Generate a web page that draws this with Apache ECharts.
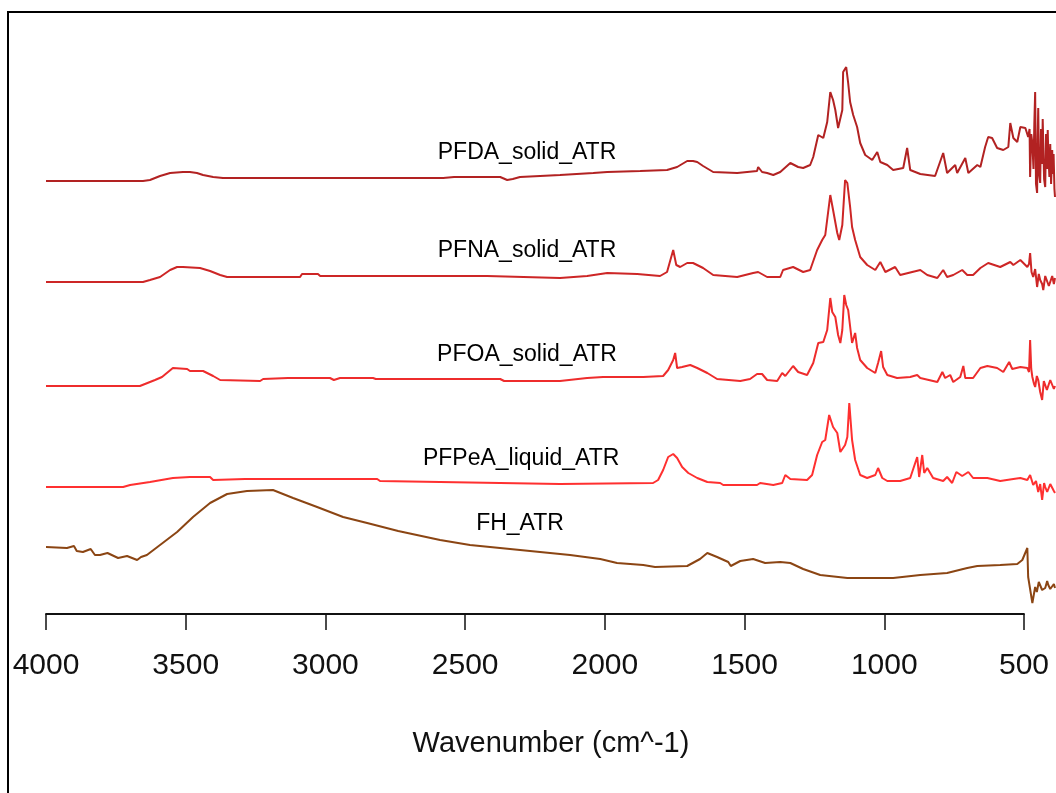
<!DOCTYPE html>
<html>
<head>
<meta charset="utf-8">
<script src="https://cdn.jsdelivr.net/npm/echarts@6/dist/echarts.min.js"></script>
<style>
html,body{margin:0;padding:0;background:#fff;}
#c{width:1056px;height:793px;}
</style>
</head>
<body>
<div id="c"></div>
<script>
// Offset absorbance (a.u.) vs wavenumber (cm^-1)
const xTicks = [4000, 3500, 3000, 2500, 2000, 1500, 1000, 500];
const seriesNames = ['PFDA_solid_ATR', 'PFNA_solid_ATR', 'PFOA_solid_ATR', 'PFPeA_liquid_ATR', 'FH_ATR'];

const pfdaWn = [4000,3653,3628,3610,3592,3556,3510,3485,3460,3438,3402,3367,2579,2540,2375,2350,2330,2304,2161,2042,1992,1874,1778,1742,1706,1685,1670,1649,1613,1527,1456,1452,1438,1420,1398,1373,1337,1309,1291,1266,1255,1237,1219,1205,1194,1184,1176,1166,1151,1148,1137,1130,1123,1112,1098,1087,1069,1044,1026,1015,990,969,933,919,908,872,819,790,776,747,740,711,700,668,657,640,629,615,597,575,557,550,539,525,514,496,486,481,479,475,471,467,464,461,458,454,452,450,447,443,440,436,434,432,429,425,422,418,416,414,410,407,404,400,398,395,392,390];
const pfdaAbs = [4.33,4.33,4.34,4.36,4.38,4.41,4.42,4.42,4.41,4.39,4.37,4.36,4.36,4.37,4.37,4.34,4.35,4.37,4.39,4.41,4.42,4.43,4.44,4.47,4.53,4.53,4.52,4.48,4.42,4.41,4.43,4.47,4.42,4.41,4.39,4.42,4.51,4.47,4.46,4.49,4.57,4.79,4.76,4.92,5.22,5.14,5.04,4.86,5.04,5.42,5.47,5.31,5.12,4.99,4.87,4.71,4.59,4.54,4.62,4.52,4.49,4.44,4.46,4.66,4.44,4.40,4.38,4.61,4.41,4.49,4.41,4.56,4.41,4.49,4.47,4.67,4.77,4.76,4.66,4.64,4.67,4.91,4.76,4.72,4.87,4.86,4.77,4.85,4.37,4.80,4.71,4.45,4.90,5.22,4.30,4.21,4.75,5.06,4.40,4.31,4.85,4.50,4.95,4.71,4.35,4.27,4.80,4.45,4.84,4.60,4.37,4.70,4.30,4.64,4.40,4.60,4.25,4.17];

const pfnaWn = [4000,3653,3628,3592,3556,3531,3510,3449,3413,3377,3352,3091,3084,3027,3019,2422,2415,2161,2064,1992,1885,1803,1778,1756,1745,1731,1706,1685,1649,1613,1527,1470,1452,1420,1373,1363,1327,1291,1266,1241,1223,1212,1194,1184,1169,1162,1151,1141,1133,1123,1116,1105,1087,1062,1033,1015,997,962,944,872,847,811,790,776,754,722,704,683,657,629,586,550,539,514,489,483,479,474,468,461,454,448,443,436,432,425,418,412,407,400,394,390];
const pfnaAbs = [3.32,3.32,3.34,3.37,3.44,3.47,3.47,3.46,3.43,3.39,3.37,3.37,3.40,3.40,3.38,3.38,3.36,3.36,3.38,3.41,3.40,3.38,3.42,3.64,3.49,3.47,3.51,3.51,3.46,3.39,3.37,3.41,3.42,3.37,3.37,3.44,3.47,3.42,3.44,3.64,3.74,3.79,4.19,4.04,3.81,3.74,3.89,4.34,4.31,4.07,3.87,3.74,3.57,3.49,3.44,3.52,3.42,3.47,3.39,3.44,3.39,3.36,3.44,3.37,3.39,3.44,3.39,3.39,3.46,3.51,3.47,3.52,3.49,3.54,3.47,3.50,3.61,3.42,3.37,3.45,3.27,3.40,3.34,3.30,3.24,3.38,3.36,3.28,3.29,3.38,3.30,3.36];

const pfoaWn = [4000,3664,3610,3585,3546,3495,3485,3438,3402,3377,3234,3223,3134,2984,2970,2948,2830,2820,2375,2361,2161,2064,2007,1863,1792,1774,1756,1749,1742,1724,1695,1670,1634,1599,1516,1481,1456,1438,1420,1384,1366,1355,1327,1309,1277,1255,1237,1219,1205,1194,1187,1176,1166,1158,1151,1144,1137,1130,1116,1105,1098,1087,1062,1033,1023,1012,1005,990,955,908,883,872,811,793,783,765,754,729,718,711,683,657,632,597,575,554,543,514,489,483,479,475,471,465,461,455,450,443,436,430,425,419,414,407,400,394,390];
const pfoaAbs = [2.28,2.28,2.34,2.37,2.46,2.45,2.43,2.43,2.38,2.34,2.33,2.35,2.36,2.36,2.34,2.36,2.36,2.35,2.35,2.33,2.33,2.36,2.37,2.37,2.38,2.44,2.54,2.61,2.46,2.47,2.49,2.46,2.41,2.35,2.33,2.35,2.40,2.40,2.34,2.33,2.41,2.38,2.48,2.42,2.39,2.51,2.71,2.72,2.84,3.16,3.02,2.97,2.79,2.71,2.84,3.19,3.09,3.04,2.71,2.81,2.66,2.54,2.46,2.41,2.51,2.63,2.47,2.39,2.36,2.37,2.39,2.36,2.32,2.42,2.36,2.39,2.32,2.37,2.48,2.36,2.36,2.46,2.48,2.46,2.42,2.52,2.45,2.47,2.46,2.42,2.74,2.45,2.37,2.30,2.27,2.38,2.34,2.22,2.14,2.33,2.31,2.24,2.26,2.34,2.32,2.25,2.28];

const pfpeaWn = [4000,3724,3699,3628,3546,3485,3413,3402,3288,2815,2805,2161,1828,1810,1792,1774,1756,1742,1724,1702,1670,1634,1588,1577,1456,1445,1398,1366,1355,1337,1277,1259,1241,1223,1212,1198,1184,1169,1158,1141,1133,1126,1116,1105,1087,1062,1033,1023,1008,990,944,908,883,876,865,858,847,826,790,776,758,743,722,700,683,632,586,539,514,489,479,468,458,450,443,436,429,425,418,414,407,400,394,390];
const pfpeaAbs = [1.27,1.27,1.29,1.32,1.36,1.37,1.37,1.34,1.35,1.35,1.33,1.30,1.31,1.34,1.44,1.57,1.60,1.56,1.47,1.41,1.36,1.32,1.31,1.29,1.29,1.31,1.29,1.31,1.39,1.35,1.34,1.39,1.59,1.72,1.74,1.99,1.87,1.81,1.62,1.69,1.77,2.11,1.74,1.54,1.39,1.36,1.39,1.46,1.36,1.33,1.33,1.36,1.57,1.37,1.59,1.41,1.46,1.36,1.33,1.37,1.31,1.42,1.38,1.42,1.36,1.36,1.33,1.35,1.36,1.34,1.39,1.29,1.33,1.22,1.30,1.14,1.31,1.27,1.22,1.24,1.30,1.31,1.23,1.21];

const fhWn = [4000,3925,3900,3890,3868,3840,3825,3807,3780,3742,3710,3674,3660,3639,3592,3531,3474,3413,3352,3281,3188,3116,3030,2937,2851,2740,2590,2483,2304,2125,2017,1957,1863,1821,1706,1660,1634,1599,1559,1550,1516,1470,1427,1373,1337,1291,1230,1133,969,872,776,704,668,586,525,507,489,486,471,461,455,448,443,436,425,418,414,407,400,394,390];
const fhAbs = [0.67,0.66,0.68,0.63,0.62,0.65,0.59,0.59,0.61,0.56,0.58,0.54,0.57,0.59,0.69,0.82,0.97,1.11,1.20,1.23,1.24,1.16,1.07,0.97,0.91,0.83,0.74,0.69,0.64,0.59,0.55,0.51,0.49,0.47,0.48,0.55,0.61,0.57,0.52,0.48,0.53,0.55,0.51,0.52,0.51,0.45,0.39,0.36,0.36,0.39,0.41,0.46,0.48,0.49,0.50,0.54,0.66,0.37,0.11,0.27,0.22,0.32,0.34,0.24,0.26,0.33,0.29,0.25,0.24,0.30,0.26];

// label anchor positions (wavenumber, offset absorbance)
const labelWn = [2279, 2279, 2279, 2300, 2304];
const labelAbs = [4.61, 3.63, 2.59, 1.55, 0.90];

const colors = ['#B22222', '#CD2626', '#EE2C2C', '#FF3030', '#8B4513'];
const wnArrays = [pfdaWn, pfnaWn, pfoaWn, pfpeaWn, fhWn];
const absArrays = [pfdaAbs, pfnaAbs, pfoaAbs, pfpeaAbs, fhAbs];

const FONT = "'Liberation Sans', Arial, sans-serif";

const series = seriesNames.map((name, i) => ({
  name: name,
  type: 'line',
  xAxisIndex: 0,
  yAxisIndex: 0,
  showSymbol: false,
  symbol: 'none',
  silent: true,
  animation: false,
  lineStyle: { color: colors[i], width: 2 },
  data: wnArrays[i].map((w, j) => [w, absArrays[i][j]])
}));

series.push({
  type: 'scatter',
  xAxisIndex: 0,
  yAxisIndex: 0,
  symbolSize: 0,
  silent: true,
  animation: false,
  itemStyle: { opacity: 1 },
  data: seriesNames.map((n, i) => [labelWn[i], labelAbs[i], n]),
  label: {
    show: true,
    position: 'inside',
    formatter: p => p.data[2],
    color: '#000',
    opacity: 1,
    textBorderWidth: 0,
    fontSize: 23,
    fontFamily: FONT
  }
});

const chart = echarts.init(document.getElementById('c'), null, { renderer: 'canvas' });
chart.setOption({
  backgroundColor: '#ffffff',
  animation: false,
  grid: [
    { left: 46, right: 1, top: 14, bottom: 179 },
    { left: 46, right: 32, top: 14, bottom: 179 }
  ],
  xAxis: [
    { gridIndex: 0, type: 'value', min: 390, max: 4000, inverse: true, show: false },
    {
      gridIndex: 1, type: 'value', min: 500, max: 4000, interval: 500, inverse: true,
      axisLine: { show: true, lineStyle: { color: '#111', width: 1.8 } },
      axisTick: { show: true, length: 16, lineStyle: { color: '#111', width: 1.5 } },
      splitLine: { show: false },
      axisLabel: {
        show: true, margin: 37, color: '#111', fontSize: 30, fontFamily: FONT,
        showMinLabel: true, showMaxLabel: true,
        formatter: v => String(v)
      },
      name: 'Wavenumber (cm^-1)',
      nameLocation: 'middle',
      nameGap: 115,
      nameTextStyle: { color: '#111', fontSize: 29, fontFamily: FONT, padding: [0, 0, 0, 32] }
    }
  ],
  yAxis: [
    { gridIndex: 0, type: 'value', min: 0, max: 6, show: false },
    { gridIndex: 1, type: 'value', min: 0, max: 6, show: false }
  ],
  graphic: [
    {
      type: 'rect', silent: true, z: 100,
      shape: { x: 8, y: 12, width: 1200, height: 900 },
      style: { fill: 'none', stroke: '#000', lineWidth: 2 }
    }
  ],
  series: series
});
</script>
</body>
</html>
